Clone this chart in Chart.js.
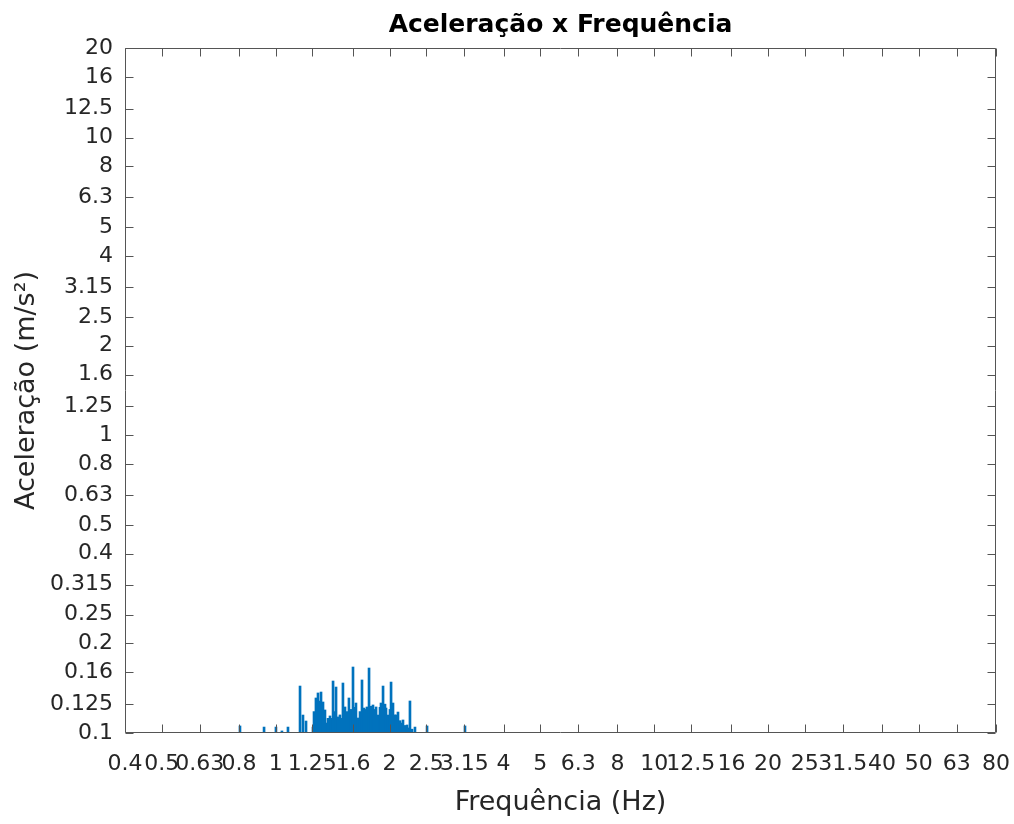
<!DOCTYPE html>
<html>
<head>
<meta charset="utf-8">
<script src="https://cdn.jsdelivr.net/npm/chart.js@4.4.1/dist/chart.umd.min.js"></script>
<style>
html,body{margin:0;padding:0;background:#ffffff;}
#wrap{width:1014px;height:824px;position:relative;background:#ffffff;}
</style>
</head>
<body>
<div id="wrap"><canvas id="c" width="1014" height="824"></canvas></div>
<script>
// Frequency (Hz) of each spectral line
const freqHz = [
  0.805, 0.932, 1.002, 1.039, 1.078, 1.160, 1.181, 1.203, 1.255, 1.263,
  1.278, 1.294, 1.310, 1.318, 1.334, 1.350, 1.367, 1.375, 1.392, 1.401,
  1.418, 1.435, 1.444, 1.461, 1.479, 1.488, 1.506, 1.525, 1.544, 1.562,
  1.582, 1.601, 1.621, 1.630, 1.650, 1.671, 1.691, 1.712, 1.733, 1.743,
  1.765, 1.786, 1.808, 1.819, 1.842, 1.864, 1.887, 1.898, 1.922, 1.945,
  1.957, 1.981, 2.005, 2.018, 2.042, 2.067, 2.080, 2.105, 2.131, 2.144,
  2.170, 2.197, 2.224, 2.237, 2.264, 2.292, 2.334, 2.512, 3.164
];
// Acceleration (m/s²) of each spectral line
const accel = [
  0.1056, 0.1047, 0.1047, 0.1016, 0.1047, 0.1438, 0.1149, 0.1097, 0.1047, 0.118,
  0.1311, 0.1363, 0.128, 0.1373, 0.1271, 0.1195, 0.108, 0.112, 0.1141, 0.112,
  0.1495, 0.118, 0.1427, 0.1132, 0.115, 0.112, 0.1472, 0.1223, 0.118, 0.1311,
  0.120, 0.1666, 0.122, 0.1261, 0.1123, 0.118, 0.1507, 0.1213, 0.120, 0.1223,
  0.1653, 0.123, 0.1242, 0.120, 0.1223, 0.1149, 0.122, 0.1261, 0.1438, 0.125,
  0.1213, 0.1149, 0.120, 0.1483, 0.1261, 0.115, 0.1149, 0.1176, 0.110, 0.108,
  0.1106, 0.106, 0.1064, 0.104, 0.1281, 0.103, 0.1047, 0.1056, 0.1056
];
const xTickValues = [0.4,0.5,0.63,0.8,1,1.25,1.6,2,2.5,3.15,4,5,6.3,8,10,12.5,16,20,25,31.5,40,50,63,80];
const xTickLabels = ['0.4','0.5','0.63','0.8','1','1.25','1.6','2','2.5','3.15','4','5','6.3','8','10','12.5','16','20','25','31.5','40','50','63','80'];
const yTickValues = [0.1,0.125,0.16,0.2,0.25,0.315,0.4,0.5,0.63,0.8,1,1.25,1.6,2,2.5,3.15,4,5,6.3,8,10,12.5,16,20];
const yTickLabels = ['0.1','0.125','0.16','0.2','0.25','0.315','0.4','0.5','0.63','0.8','1','1.25','1.6','2','2.5','3.15','4','5','6.3','8','10','12.5','16','20'];
const chartTitle = 'Aceleração x Frequência';
const xTitle = 'Frequência (Hz)';
const yTitle = 'Aceleração (m/s²)';

const FONT = "'DejaVu Sans', 'Liberation Sans', Arial, sans-serif";
const TXT = '#262626';

const points = freqHz.map((f, i) => ({x: f, y: accel[i]}));

const framePlugin = {
  id: 'frame',
  afterDatasetsDraw(chart) {
    const {ctx, chartArea: a, scales: {x, y}} = chart;
    const L = 8;
    ctx.save();
    ctx.strokeStyle = '#555555';
    ctx.lineWidth = 1;
    ctx.beginPath();
    const l = Math.round(a.left) + 0.5, r = Math.round(a.right) - 0.5;
    const t = Math.round(a.top) + 0.5, b = Math.round(a.bottom) - 0.5;
    ctx.rect(l, t, r - l, b - t);
    x.ticks.forEach(tk => {
      const p = Math.round(x.getPixelForValue(tk.value)) + 0.5;
      ctx.moveTo(p, b); ctx.lineTo(p, b - L);
      ctx.moveTo(p, t); ctx.lineTo(p, t + L);
    });
    y.ticks.forEach(tk => {
      const p = Math.round(y.getPixelForValue(tk.value)) + 0.5;
      ctx.moveTo(l, p); ctx.lineTo(l + L, p);
      ctx.moveTo(r, p); ctx.lineTo(r - L, p);
    });
    ctx.stroke();
    ctx.restore();
  },
  afterDraw(chart) {
    const {ctx, chartArea: a} = chart;
    ctx.save();
    ctx.font = 'bold 25px ' + FONT;
    ctx.fillStyle = '#000000';
    ctx.textAlign = 'center';
    ctx.textBaseline = 'middle';
    ctx.fillText(chartTitle, (a.left + a.right) / 2, 25);
    ctx.restore();
  }
};

new Chart(document.getElementById('c'), {
  type: 'bar',
  data: {
    datasets: [{
      data: points,
      backgroundColor: '#0072BD',
      borderWidth: 0,
      barThickness: 2,
      grouped: false
    }]
  },
  options: {
    responsive: false,
    maintainAspectRatio: false,
    animation: false,
    devicePixelRatio: 1,
    layout: {padding: {left: 0, right: 18, top: 48, bottom: 0}},
    plugins: {
      legend: {display: false},
      tooltip: {enabled: false},
      title: {display: false}
    },
    scales: {
      x: {
        type: 'logarithmic',
        min: 0.4, max: 80,
        offset: false,
        bounds: 'data',
        grid: {display: false, drawTicks: false},
        border: {display: false},
        afterBuildTicks: s => { s.ticks = xTickValues.map(v => ({value: v})); },
        afterFit: s => { s.height = 91; s.paddingLeft = 0; s.paddingRight = 0; },
        ticks: {
          autoSkip: false, maxRotation: 0, minRotation: 0,
          padding: 18,
          color: TXT,
          font: {family: FONT, size: 22},
          callback: (v, i) => xTickLabels[i]
        },
        title: {
          display: true,
          text: xTitle,
          color: TXT,
          font: {family: FONT, size: 27},
          padding: {top: 0, bottom: 5}
        }
      },
      y: {
        type: 'logarithmic',
        min: 0.1, max: 20,
        bounds: 'data',
        grid: {display: false, drawTicks: false},
        border: {display: false},
        afterBuildTicks: s => { s.ticks = yTickValues.map(v => ({value: v})); },
        afterFit: s => { s.width = 125; s.paddingTop = 0; s.paddingBottom = 0; },
        ticks: {
          autoSkip: false,
          padding: 12,
          color: TXT,
          font: {family: FONT, size: 22},
          callback: (v, i) => yTickLabels[i]
        },
        title: {
          display: true,
          text: yTitle,
          color: TXT,
          font: {family: FONT, size: 27},
          padding: {top: 11, bottom: 0}
        }
      }
    }
  },
  plugins: [framePlugin]
});
</script>
</body>
</html>
